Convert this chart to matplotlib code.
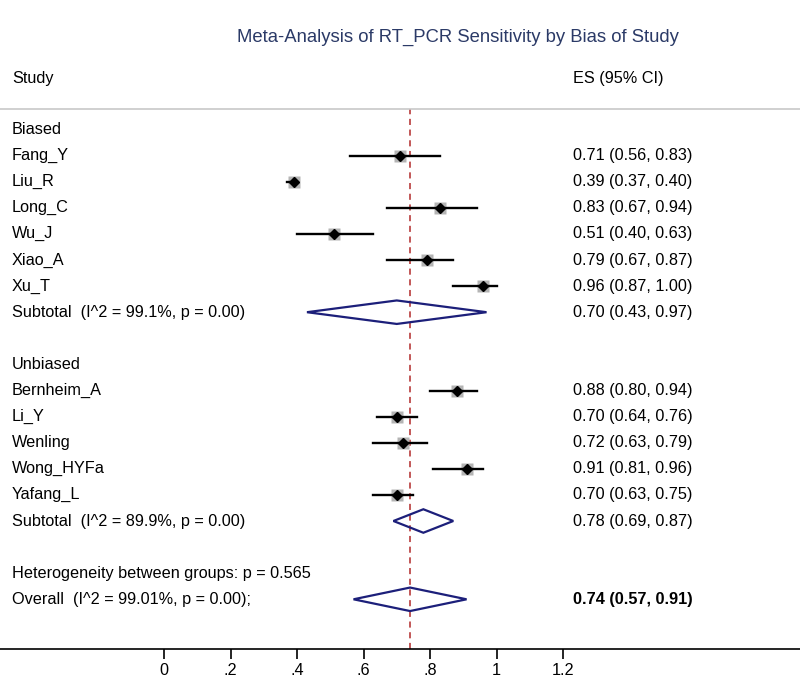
import numpy as np
import matplotlib
matplotlib.use("Agg")
import matplotlib.pyplot as plt
from matplotlib.patches import Polygon

plt.rcParams['font.family'] = ['Liberation Sans', 'DejaVu Sans']

# data
biased_names = ["Fang_Y", "Liu_R", "Long_C", "Wu_J", "Xiao_A", "Xu_T"]
biased_es = [0.71, 0.39, 0.83, 0.51, 0.79, 0.96]
biased_lo = [0.56, 0.37, 0.67, 0.40, 0.67, 0.87]
biased_hi = [0.83, 0.40, 0.94, 0.63, 0.87, 1.00]
biased_sub = [0.70, 0.43, 0.97]
biased_sub_label = "Subtotal  (I^2 = 99.1%, p = 0.00)"

unbiased_names = ["Bernheim_A", "Li_Y", "Wenling", "Wong_HYFa", "Yafang_L"]
unbiased_es = [0.88, 0.70, 0.72, 0.91, 0.70]
unbiased_lo = [0.80, 0.64, 0.63, 0.81, 0.63]
unbiased_hi = [0.94, 0.76, 0.79, 0.96, 0.75]
unbiased_sub = [0.78, 0.69, 0.87]
unbiased_sub_label = "Subtotal  (I^2 = 89.9%, p = 0.00)"

overall = [0.74, 0.57, 0.91]
overall_label = "Overall  (I^2 = 99.01%, p = 0.00);"
het_label = "Heterogeneity between groups: p = 0.565"

xticks = [0, 0.2, 0.4, 0.6, 0.8, 1.0, 1.2]
xtick_labels = ["0", ".2", ".4", ".6", ".8", "1", "1.2"]

W, H = 800, 680
fig = plt.figure(figsize=(8, 6.8), dpi=100)

# axes from the top rule (y=109px) down to the x axis (y=649px), full width
ax_top, ax_bot = 109, 649
ax = fig.add_axes([0, 1 - ax_bot / H, 1, (ax_bot - ax_top) / H])
x0, ppu = 164, 332.5  # pixel of x=0, pixels per unit
ax.set_xlim(-x0 / ppu, (W - x0) / ppu)
row0, rowh = 129.5, 26.1
ax.set_ylim((ax_bot - row0) / rowh, (ax_top - row0) / rowh)

fs = 11.7
navy = "#1c1f7a"
ytr = ax.get_yaxis_transform()
xl, xr = 0.015, 0.716


def fmt(es, lo, hi):
    return f"{es:.2f} ({lo:.2f}, {hi:.2f})"


def study_row(y, name, es, lo, hi):
    ax.plot([lo, hi], [y, y], color="black", lw=1.7, zorder=3)
    ax.plot(es, y, marker="s", ms=8.5, color="#b4b4b4", mec="none", zorder=2)
    ax.plot(es, y, marker="D", ms=5, color="black", zorder=4)
    ax.text(xl, y, name, transform=ytr, va="center", ha="left", fontsize=fs)
    ax.text(xr, y, fmt(es, lo, hi), transform=ytr, va="center", ha="left", fontsize=fs)


def diamond_row(y, label, vals, bold=False):
    es, lo, hi = vals
    h = 0.45
    d = Polygon([[lo, y], [es, y - h], [hi, y], [es, y + h]], closed=True,
                fill=False, edgecolor=navy, lw=1.6, zorder=3)
    ax.add_patch(d)
    ax.text(xl, y, label, transform=ytr, va="center", ha="left", fontsize=fs)
    ax.text(xr, y, fmt(es, lo, hi), transform=ytr, va="center", ha="left",
            fontsize=fs, fontweight="bold" if bold else "normal")


row = 0
ax.text(xl, row, "Biased", transform=ytr, va="center", ha="left", fontsize=fs)
row += 1
for i in range(len(biased_names)):
    study_row(row, biased_names[i], biased_es[i], biased_lo[i], biased_hi[i])
    row += 1
diamond_row(row, biased_sub_label, biased_sub)
row += 2
ax.text(xl, row, "Unbiased", transform=ytr, va="center", ha="left", fontsize=fs)
row += 1
for i in range(len(unbiased_names)):
    study_row(row, unbiased_names[i], unbiased_es[i], unbiased_lo[i], unbiased_hi[i])
    row += 1
diamond_row(row, unbiased_sub_label, unbiased_sub)
row += 2
ax.text(xl, row, het_label, transform=ytr, va="center", ha="left", fontsize=fs)
row += 1
diamond_row(row, overall_label, overall, bold=True)

# dashed line at overall estimate
ax.axvline(overall[0], color="#b22a2a", ls=(0, (4, 3)), lw=1.1, zorder=1)

ax.spines["left"].set_visible(False)
ax.spines["right"].set_visible(False)
ax.spines["top"].set_color("#c8c8c8")
ax.spines["top"].set_linewidth(1.2)
ax.spines["bottom"].set_linewidth(1.2)
ax.set_yticks([])
ax.set_xticks(xticks)
ax.set_xticklabels(xtick_labels, fontsize=fs)
ax.tick_params(axis="x", direction="out", length=7, width=1.2, pad=3)

fig.text(xl, 1 - 78 / H, "Study", fontsize=fs, va="center", ha="left")
fig.text(xr, 1 - 78 / H, "ES (95% CI)", fontsize=fs, va="center", ha="left")
fig.text(458 / W, 1 - 37 / H, "Meta-Analysis of RT_PCR Sensitivity by Bias of Study",
         fontsize=13.3, color="#2b3a67", va="center", ha="center")

fig.savefig("out.png", dpi=100)
